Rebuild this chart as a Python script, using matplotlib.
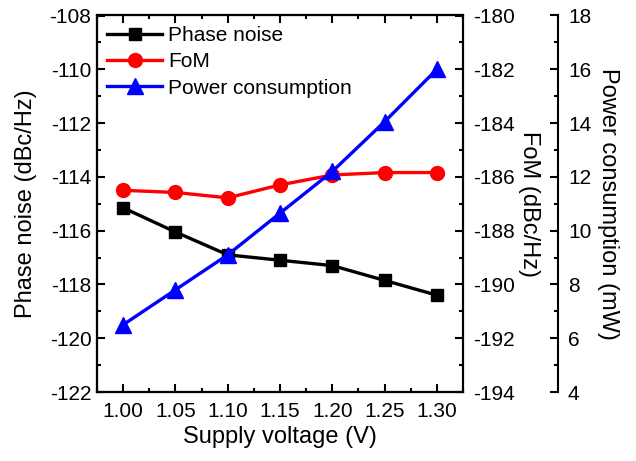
import matplotlib
matplotlib.use("Agg")
import matplotlib.pyplot as plt
from matplotlib.ticker import MultipleLocator

plt.rcParams['font.family'] = ['Liberation Sans', 'DejaVu Sans']
plt.rcParams['axes.unicode_minus'] = False

voltage = [1.00, 1.05, 1.10, 1.15, 1.20, 1.25, 1.30]
phase_noise = [-115.15, -116.05, -116.9, -117.1, -117.3, -117.85, -118.4]
fom = [-186.5, -186.58, -186.78, -186.3, -185.93, -185.84, -185.84]
power = [6.5, 7.8, 9.1, 10.65, 12.2, 14.05, 16.0]

fig = plt.figure(figsize=(6.36, 4.61), dpi=100)
ax = fig.add_axes([97/636, 69/461, 366/636, 376.5/461])
ax2 = ax.twinx()
ax3 = ax.twinx()
ax3.spines['right'].set_position(('axes', 1.26))

fs = 15
lfs = 17
l1, = ax.plot(voltage, phase_noise, color='black', lw=2.4, marker='s', ms=9, label='Phase noise')
l2, = ax2.plot(voltage, fom, color='red', lw=2.4, marker='o', ms=10, label='FoM')
l3, = ax3.plot(voltage, power, color='blue', lw=2.4, marker='^', ms=11, label='Power consumption')

ax.set_xlim(0.975, 1.325)
ax.set_ylim(-122, -108)
ax2.set_ylim(-194, -180)
ax3.set_ylim(4, 18)

ax.xaxis.set_minor_locator(MultipleLocator(0.025))
ax.set_xticks(voltage)
ax.set_xticklabels(['%.2f' % v for v in voltage])
for a in (ax, ax2, ax3):
    a.yaxis.set_major_locator(MultipleLocator(2))
    a.yaxis.set_minor_locator(MultipleLocator(1))
    for s in a.spines.values():
        s.set_linewidth(1.5)
    a.tick_params(which='both', direction='in', width=1.5, labelsize=fs)
    a.tick_params(which='major', length=6)
    a.tick_params(which='minor', length=3)

ax.tick_params(which='both', top=True)
ax.tick_params(axis='x', pad=7)
ax.tick_params(axis='y', pad=4)
ax2.tick_params(axis='y', pad=7)
ax3.tick_params(axis='y', pad=7)

ax.set_xlabel('Supply voltage (V)', fontsize=lfs, labelpad=4)
ax.set_ylabel('Phase noise (dBc/Hz)', fontsize=lfs, labelpad=9)
ax2.set_ylabel('FoM (dBc/Hz)', fontsize=lfs, rotation=270, labelpad=18)
ax3.set_ylabel('Power consumption (mW)', fontsize=lfs, rotation=270, labelpad=20)

ax.legend(handles=[l1, l2, l3], loc='upper left', frameon=False, fontsize=fs,
          handlelength=2.6, handletextpad=0.3, labelspacing=0.35,
          borderaxespad=0.1, bbox_to_anchor=(0.0, 1.0))

fig.savefig('out.png', dpi=100)
